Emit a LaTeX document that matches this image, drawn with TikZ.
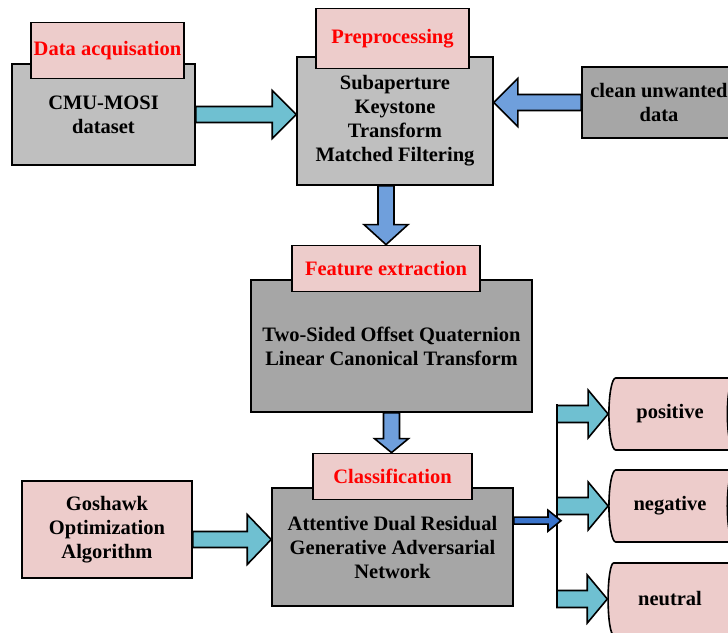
\documentclass[tikz,border=0pt]{standalone}
\usepackage{fontspec}
\setmainfont{Liberation Serif}
\usepackage{xcolor}
\usetikzlibrary{positioning,calc,shapes.geometric}

\definecolor{boxlight}{HTML}{BFBFBF}
\definecolor{boxdark}{HTML}{A6A6A6}
\definecolor{tabpink}{HTML}{EDCCCB}
\definecolor{aqua}{HTML}{6FC0D1}
\definecolor{skyblue}{HTML}{6F9FDC}
\definecolor{deepblue}{HTML}{3A74CC}

% block arrow: [style]{from}{to}{shaft half}{head half}{head length}
\newcommand{\fatarrow}[6][]{%
  \coordinate (hb) at ($(#3)!#6!(#2)$);
  \draw[#1] ($(#2)!#4!90:(#3)$) -- ($(hb)!#4!90:(#3)$) -- ($(hb)!#5!90:(#3)$) -- (#3)
    -- ($(hb)!#5!-90:(#3)$) -- ($(hb)!#4!-90:(#3)$) -- ($(#2)!#4!-90:(#3)$) -- cycle;
}

\begin{document}
\begin{tikzpicture}[
  x=1pt, y=-1pt,
  box/.style={draw, line width=1.6pt, align=center, inner sep=2pt, font=\fontsize{20.5}{24}\selectfont\bfseries},
  lightbox/.style={box, fill=boxlight},
  darkbox/.style={box, fill=boxdark},
  pinkbox/.style={box, fill=tabpink},
  tab/.style={box, fill=tabpink, text=red},
  result/.style={box, cylinder, fill=tabpink, aspect=0.6, minimum width=72pt, minimum height=132pt},
  aquaarrow/.style={draw, line width=1.6pt, line join=miter, fill=aqua},
  bluearrow/.style={draw, line width=1.6pt, line join=miter, fill=skyblue},
  deeparrow/.style={draw, line width=1.6pt, line join=miter, fill=deepblue}
]
\useasboundingbox (0,0) rectangle (728,632);
\clip (0,0) rectangle (728,632);

\node[lightbox, minimum width=183pt, minimum height=101pt] (cmu) at (103.5,114.5) {CMU-MOSI\\dataset};
\node[tab, minimum width=153pt, minimum height=56pt, above=-16pt of cmu, xshift=4pt] (acq) {Data acquisation};

\node[lightbox, minimum width=196pt, minimum height=128pt] (pre) at (395,121) {Subaperture\\Keystone\\Transform\\Matched Filtering};
\node[tab, minimum width=153pt, minimum height=60pt, above=-13pt of pre, xshift=-2.5pt] (pretab) {Preprocessing};

\node[darkbox, minimum width=154pt, minimum height=71pt] (clean) at (659,102.5) {clean unwanted\\data};

\node[darkbox, minimum width=281pt, minimum height=132pt] (feat) at (391.5,346) {Two-Sided Offset Quaternion\\Linear Canonical Transform};
\node[tab, minimum width=188pt, minimum height=46pt, above=-13pt of feat, xshift=-5.5pt] (feattab) {Feature extraction};

\node[darkbox, minimum width=241pt, minimum height=118pt] (cls) at (392.5,547) {Attentive Dual Residual\\Generative Adversarial\\Network};
\node[tab, minimum width=159pt, minimum height=46pt, above=-13pt of cls] (clstab) {Classification};

\node[pinkbox, minimum width=170pt, minimum height=97pt] (gos) at (107,529.5) {Goshawk\\Optimization\\Algorithm};

\node[result] (pos) at (670,414) {positive};
\node[result] (neg) at (670,506) {negative};
\node[result] (neu) at (670,599) {neutral};

% connectors
\fatarrow[aquaarrow]{cmu.east}{cmu.east -| pre.west}{8pt}{24pt}{24pt}
\fatarrow[bluearrow]{clean.west}{clean.west -| pre.east}{8pt}{24pt}{24pt}
\fatarrow[bluearrow]{feattab.north |- pre.south}{feattab.north}{8pt}{22pt}{20pt}
\fatarrow[bluearrow]{feat.south}{feat.south |- clstab.north}{8pt}{17pt}{14pt}
\coordinate (gosout) at ($(gos.east)+(0,10)$);
\fatarrow[aquaarrow]{gosout}{gosout -| cls.west}{8pt}{25pt}{24pt}

\coordinate (bustop) at (557,404);
\coordinate (busbot) at (557,606);
\coordinate (clsout) at ($(cls.north east)!0.28!(cls.south east)$);
\coordinate (split) at ($(clsout -| bustop)+(4,0)$);
\draw[line width=1.6pt] (bustop) -- (busbot);
\fatarrow[deeparrow]{clsout}{split}{3.5pt}{10.5pt}{13pt}
\fatarrow[aquaarrow]{pos.west -| bustop}{pos.west}{8.5pt}{24pt}{20pt}
\fatarrow[aquaarrow]{neg.west -| bustop}{neg.west}{8.5pt}{24pt}{20pt}
\fatarrow[aquaarrow]{neu.west -| bustop}{neu.west}{8.5pt}{24pt}{20pt}
\end{tikzpicture}
\end{document}
